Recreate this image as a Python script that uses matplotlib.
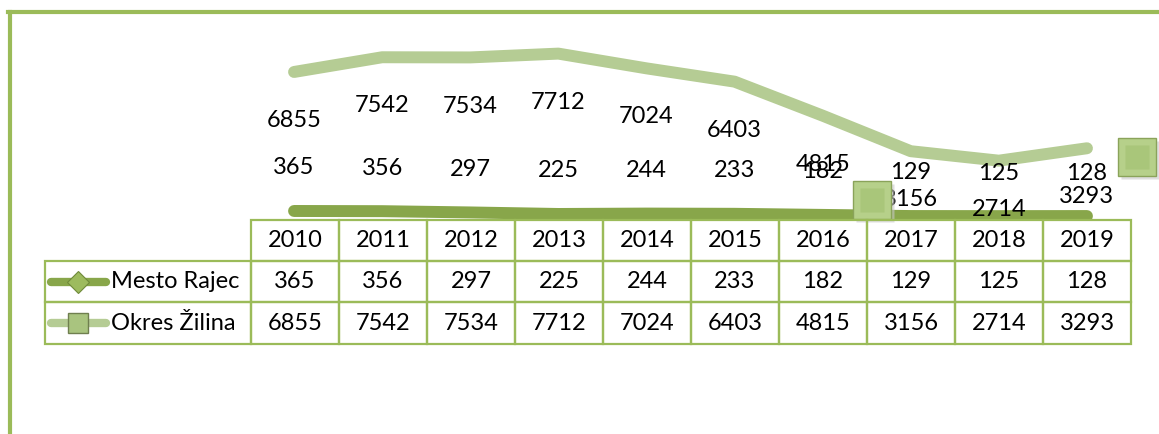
import matplotlib.pyplot as plt
import matplotlib.transforms as mtransforms
from matplotlib.patches import Rectangle
from matplotlib.lines import Line2D

plt.rcParams['font.family'] = ['Lato', 'DejaVu Sans']

years = ['2010', '2011', '2012', '2013', '2014', '2015', '2016', '2017', '2018', '2019']
mesto_rajec = [365, 356, 297, 225, 244, 233, 182, 129, 125, 128]
okres_zilina = [6855, 7542, 7534, 7712, 7024, 6403, 4815, 3156, 2714, 3293]
series_names = ['Mesto Rajec', 'Okres Žilina']

DARK = '#88A64A'
LIGHT = '#B5CC94'
BORDER = '#9BBB59'
FS = 17

W, H = 1159, 434
fig = plt.figure(figsize=(W / 100, H / 100), dpi=100)

# frame of the chart area
fig.add_artist(Line2D([8 / W, 1], [1 - 12 / H, 1 - 12 / H], color=BORDER, lw=3,
                      transform=fig.transFigure))
fig.add_artist(Line2D([10 / W, 10 / W], [0, 1 - 12 / H], color=BORDER, lw=3,
                      transform=fig.transFigure))

# line chart
ax = fig.add_axes([250 / W, 1 - 220 / H, 881 / W, 200 / H])
ax.set_xlim(-0.5, len(years) - 0.5)
ax.set_ylim(-56, 9281)
ax.axis('off')
x = list(range(len(years)))
ax.plot(x, okres_zilina, color=LIGHT, lw=8.6, solid_capstyle='round', solid_joinstyle='round')
ax.plot(x, mesto_rajec, color=DARK, lw=8.6, solid_capstyle='round', solid_joinstyle='round')

for i, v in enumerate(okres_zilina):
    ax.annotate(str(v), (i, v), xytext=(0, -35), textcoords='offset points',
                ha='center', va='center', fontsize=FS)
for i, v in enumerate(mesto_rajec):
    ax.annotate(str(v), (i, v), xytext=(0, 31), textcoords='offset points',
                ha='center', va='center', fontsize=FS)

# stray square markers
for idx, vals, dx, dy in [(7, mesto_rajec, -28, 11.5), (9, okres_zilina, 36, -6.5)]:
    tr_sh = mtransforms.offset_copy(ax.transData, fig=fig, x=dx + 2, y=dy - 2, units='points')
    ax.plot([idx], [vals[idx]], marker='s', ms=27, color='#c8c8c8', mec='none',
            transform=tr_sh, clip_on=False, alpha=0.6, zorder=4)
    tr = mtransforms.offset_copy(ax.transData, fig=fig, x=dx, y=dy, units='points')
    ax.plot([idx], [vals[idx]], marker='s', ms=27, color='#B6D08A', mec='#8AA35A', mew=1,
            transform=tr, clip_on=False, zorder=5)
    ax.plot([idx], [vals[idx]], marker='s', ms=17, color='#A9C67A', mec='none',
            transform=tr, clip_on=False, zorder=6)

# data table
tab = fig.add_axes([45 / W, 1 - 344 / H, 1086 / W, 124 / H])
tab.set_xlim(45, 1131)
tab.set_ylim(344, 220)
tab.axis('off')
col_w = 88.0
x0 = 251
rows = [220, 261, 302, 344]
for j, yr in enumerate(years):
    cx = x0 + j * col_w
    tab.add_patch(Rectangle((cx, rows[0]), col_w, rows[1] - rows[0], fill=False,
                            ec=BORDER, lw=1.6, clip_on=False))
    tab.text(cx + col_w / 2, (rows[0] + rows[1]) / 2, yr, ha='center', va='center', fontsize=FS)
    for r, vals in enumerate([mesto_rajec, okres_zilina]):
        tab.add_patch(Rectangle((cx, rows[r + 1]), col_w, rows[r + 2] - rows[r + 1], fill=False,
                                ec=BORDER, lw=1.6, clip_on=False))
        tab.text(cx + col_w / 2, (rows[r + 1] + rows[r + 2]) / 2, str(vals[j]),
                 ha='center', va='center', fontsize=FS)

for r, name in enumerate(series_names):
    tab.add_patch(Rectangle((45, rows[r + 1]), x0 - 45, rows[r + 2] - rows[r + 1], fill=False,
                            ec=BORDER, lw=1.6, clip_on=False))
    yc = (rows[r + 1] + rows[r + 2]) / 2
    color = DARK if r == 0 else LIGHT
    tab.plot([51, 106], [yc, yc], color=color, lw=6, solid_capstyle='round')
    if r == 0:
        tab.plot([78], [yc], marker='D', ms=11, color='#9DBB5E', mec='#6F8A3A', mew=0.8)
    else:
        tab.plot([78], [yc], marker='s', ms=14, color='#A9C47F', mec='#6F7F4F', mew=1)
    tab.text(111, yc, name, ha='left', va='center', fontsize=FS)

fig.savefig('out.png', dpi=100)
